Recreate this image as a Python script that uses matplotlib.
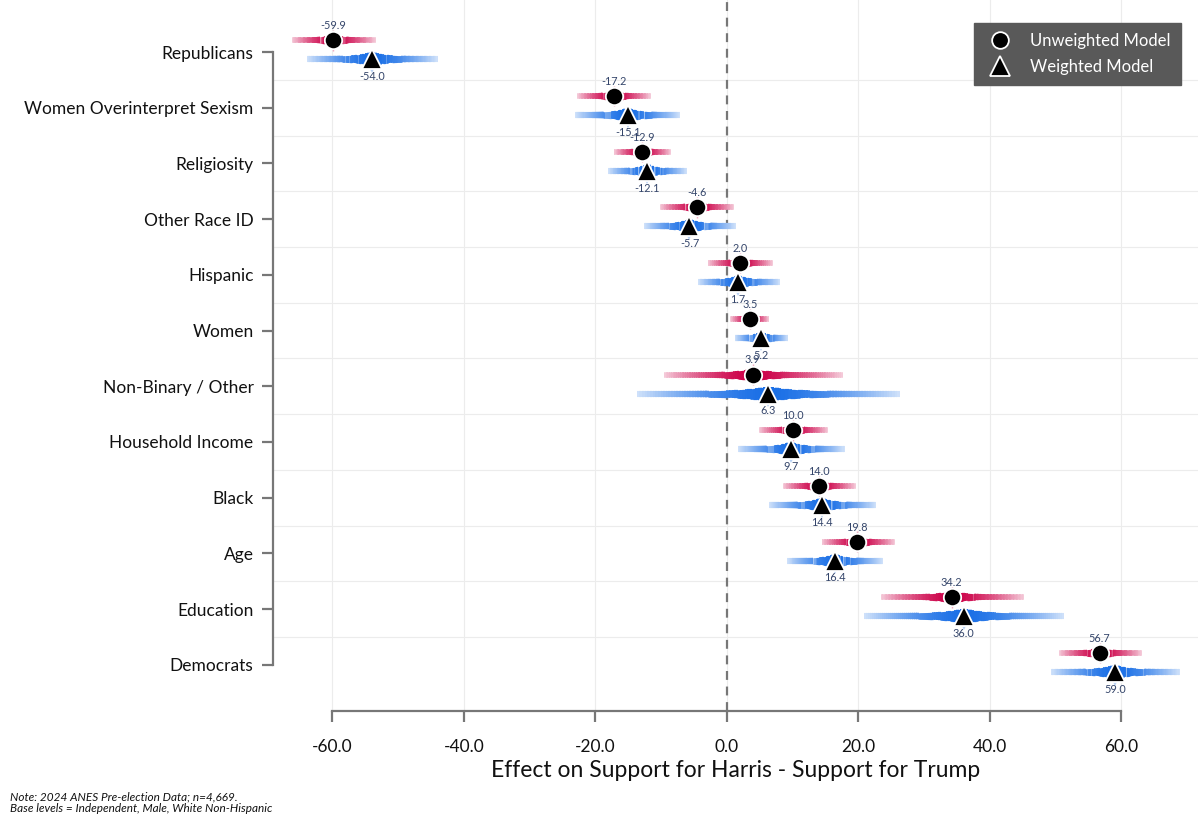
import numpy as np
import matplotlib
matplotlib.use("Agg")
import matplotlib.pyplot as plt
from matplotlib.collections import LineCollection
from matplotlib.colors import to_rgb
from matplotlib.lines import Line2D

plt.rcParams['font.family'] = ['Lato', 'DejaVu Sans']

# Datos
categorias = ['Republicans', 'Women Overinterpret Sexism', 'Religiosity', 'Other Race ID',
              'Hispanic', 'Women', 'Non-Binary / Other', 'Household Income', 'Black',
              'Age', 'Education', 'Democrats']

unw_est = [-59.9, -17.2, -12.9, -4.6, 2.0, 3.5, 3.9, 10.0, 14.0, 19.8, 34.2, 56.7]
unw_lo = [-66.2, -22.8, -17.2, -10.2, -2.9, 0.5, -9.6, 4.9, 8.5, 14.4, 23.4, 50.5]
unw_hi = [-53.4, -11.6, -8.5, 1.1, 7.0, 6.4, 17.6, 15.4, 19.6, 25.6, 45.2, 63.1]

w_est = [-54.0, -15.1, -12.1, -5.7, 1.7, 5.2, 6.3, 9.7, 14.4, 16.4, 36.0, 59.0]
w_lo = [-63.9, -23.1, -18.1, -12.6, -4.4, 1.2, -13.7, 1.7, 6.4, 9.1, 20.8, 49.3]
w_hi = [-44.0, -7.1, -6.1, 1.4, 8.1, 9.3, 26.3, 17.9, 22.7, 23.7, 51.3, 68.9]

xticks = [-60, -40, -20, 0, 20, 40, 60]

ROJO = '#cc0048'
AZUL = '#1a6fe6'
TEXTO = '#34456a'


def barra_gradiente(ax, y, est, lo, hi, color, w_end, w_mid):
    # barra que se desvanece hacia los extremos y se ensancha cerca del punto
    base = np.array(to_rgb(color))
    blanco = np.ones(3)
    n = 50
    segs, cols, anchos = [], [], []
    for extremo in (lo, hi):
        d = np.linspace(0, 1, n + 1)
        xs = est + (extremo - est) * d
        paso = (extremo - est) / n
        # de fuera hacia dentro, con un poco de solape para evitar rayas
        for k in reversed(range(n)):
            dm = (d[k] + d[k + 1]) / 2
            segs.append([(xs[k] - 0.6 * paso, y), (xs[k + 1], y)])
            t = 0.8 * dm ** 1.6
            cols.append(tuple(base * (1 - t) + blanco * t))
            anchos.append(w_end + (w_mid - w_end) * (1 - dm) ** 5)
    lc = LineCollection(segs, colors=cols, linewidths=anchos, capstyle='butt', zorder=3)
    ax.add_collection(lc)


fig = plt.figure(figsize=(12, 8.32), dpi=100)
ax = fig.add_axes([0.2275, 0.1454, 0.7705, 0.8546])

y = np.arange(len(categorias))
y_unw = y - 0.21
y_w = y + 0.13

for i in range(len(categorias)):
    barra_gradiente(ax, y_unw[i], unw_est[i], unw_lo[i], unw_hi[i], ROJO, 4.0, 9.0)
    barra_gradiente(ax, y_w[i], w_est[i], w_lo[i], w_hi[i], AZUL, 4.4, 11.0)

# pequeñas marcas junto a los puntos
ax.plot(unw_est, y_unw - 0.13, ls='none', marker='|', ms=5, mew=1, color='#f0a8c0', zorder=4)
ax.plot(unw_est, y_unw + 0.13, ls='none', marker='|', ms=5, mew=1, color='#f0a8c0', zorder=4)
ax.plot(w_est, y_w + 0.17, ls='none', marker='v', ms=6, mew=0, color='#b9d3f5', zorder=4)

ax.plot(unw_est, y_unw, ls='none', marker='o', ms=12.5, mfc='black', mec='white', mew=1.3, zorder=5)
ax.plot(w_est, y_w, ls='none', marker='^', ms=14, mfc='black', mec='white', mew=1.3, zorder=5)

for i in range(len(categorias)):
    ax.annotate(f'{unw_est[i]:.1f}', (unw_est[i], y_unw[i]), xytext=(0, 10.5),
                textcoords='offset points', ha='center', va='center', fontsize=7.8,
                color=TEXTO, zorder=6)
    ax.annotate(f'{w_est[i]:.1f}', (w_est[i], y_w[i]), xytext=(0, -12.5),
                textcoords='offset points', ha='center', va='center', fontsize=7.8,
                color=TEXTO, zorder=6)

ax.axvline(0, color='#777777', ls=(0, (4, 3)), lw=1.6, zorder=2)

for xv in xticks:
    ax.axvline(xv, color='#ececec', lw=0.8, zorder=0)
for b in np.arange(0.5, len(categorias) - 1, 1):
    ax.axhline(b, color='#ececec', lw=0.8, zorder=0)

ax.set_xlim(-69.05, 71.6)
ax.set_ylim(11.83, -0.934)
ax.set_yticks(y)
ax.set_yticklabels(categorias, fontsize=12.5, color='#111111')
ax.set_xticks(xticks)
ax.set_xticklabels([f'{v:.1f}' for v in xticks], fontsize=12.5, color='#111111')

for lado in ('top', 'right'):
    ax.spines[lado].set_visible(False)
ax.spines['left'].set_bounds(0, len(categorias) - 1)
ax.spines['bottom'].set_bounds(-60, 60)
for lado in ('left', 'bottom'):
    ax.spines[lado].set_color('#777777')
    ax.spines[lado].set_linewidth(1.6)
ax.tick_params(axis='both', color='#777777', width=1.6, length=8, pad=6)
ax.tick_params(axis='x', pad=12)

ax.set_xlabel('Effect on Support for Harris - Support for Trump', fontsize=16.5,
              color='#111111', labelpad=4)

handles = [
    Line2D([], [], ls='none', marker='o', ms=12, mfc='black', mec='white', mew=1.3),
    Line2D([], [], ls='none', marker='^', ms=14, mfc='black', mec='white', mew=1.3),
]
leg = fig.legend(handles, ['Unweighted Model', 'Weighted Model'], loc='upper right',
                 bbox_to_anchor=(0.991, 0.982), fontsize=12, labelcolor='white',
                 facecolor='#595959', edgecolor='#595959', framealpha=1, fancybox=False,
                 handletextpad=0.8, borderpad=0.6, labelspacing=0.6)

fig.text(0.008, 0.035, 'Note: 2024 ANES Pre-election Data; n=4,669.\n'
         'Base levels = Independent, Male, White Non-Hispanic',
         fontsize=8.5, style='italic', color='#111111', va='center', linespacing=1.05)

fig.savefig('out.png', dpi=100)
